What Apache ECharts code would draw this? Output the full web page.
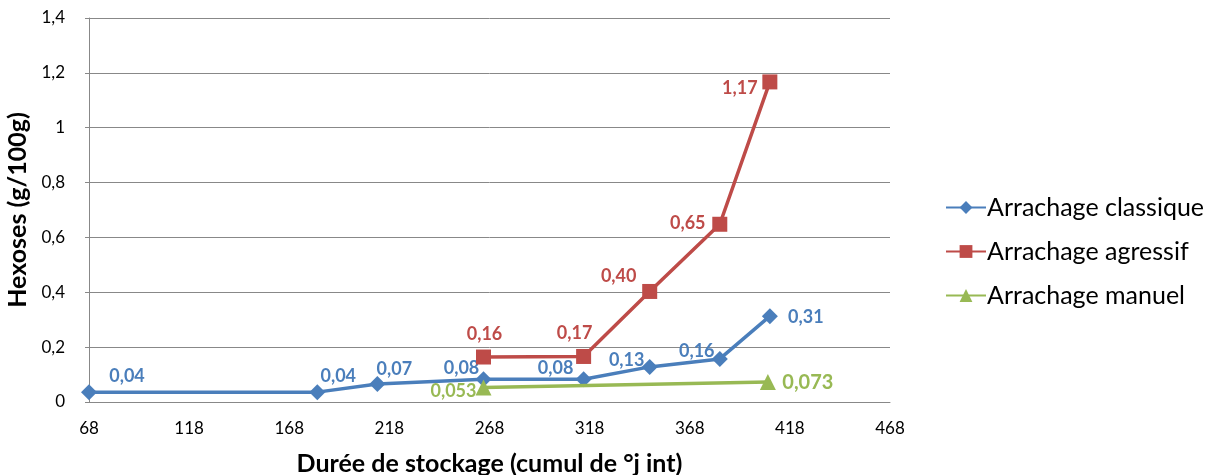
<!DOCTYPE html>
<html>
<head>
<meta charset="utf-8">
<script src="https://cdn.jsdelivr.net/npm/echarts@6/dist/echarts.min.js"></script>
<style>html,body{margin:0;padding:0;background:#fff}#c{width:1215px;height:475px}</style>
</head>
<body>
<div id="c"></div>
<script>
// ---- data ----
const seriesNames = ['Arrachage classique', 'Arrachage agressif', 'Arrachage manuel'];
const classiqueX = [68, 182, 212, 265, 315, 348, 383, 408];
const classiqueY = [0.036, 0.036, 0.066, 0.083, 0.083, 0.128, 0.157, 0.313];
const agressifX = [265, 315, 348, 383, 408];
const agressifY = [0.164, 0.166, 0.403, 0.648, 1.167];
const manuelX = [265, 407];
const manuelY = [0.053, 0.073];
const xTicks = [68, 118, 168, 218, 268, 318, 368, 418, 468];
const yTicks = [0, 0.2, 0.4, 0.6, 0.8, 1, 1.2, 1.4];

// ---- layout / style (not data) ----
const colors = ['#4A7EBB', '#BE4B48', '#98B954'];
const decimals = [2, 2, 3];
const labelOffsets = [
  [[38,-16],[21,-16],[17,-15],[-22,-11],[-28,-11],[-23,-7],[-23,-8],[36,1]],
  [[1,-23],[-9,-23],[-31,-15],[-32,-1],[-30,6]],
  [[-30,4],[40,1]]
];
const symbols = ['diamond', 'rect', 'triangle'];
const symbolSizes = [16, 15, 16];
const FONT = 'Lato';

function fmt(v, d) { return v.toFixed(d).replace('.', ','); }

function build(i, xs, ys) {
  return xs.map((x, k) => ({
    value: [x, ys[k]],
    label: {
      show: true,
      position: 'inside',
      offset: labelOffsets[i][k],
      formatter: () => fmt(ys[k], decimals[i]),
      color: colors[i],
      fontWeight: 'bold',
      fontSize: i === 2 && k === 1 ? 20 : 18,
      fontFamily: FONT
    }
  }));
}

const allX = [classiqueX, agressifX, manuelX];
const allY = [classiqueY, agressifY, manuelY];

const chart = echarts.init(document.getElementById('c'));
chart.setOption({
  backgroundColor: '#fff',
  animation: false,
  grid: { left: 89, right: 325, top: 18, bottom: 73, containLabel: false, outerBoundsMode: 'none' },
  xAxis: {
    type: 'value', min: 68, max: 468,
    name: 'Durée de stockage (cumul de °j int)',
    nameLocation: 'middle', nameGap: 49,
    nameTextStyle: { fontSize: 25, fontWeight: 'bold', color: '#000', fontFamily: FONT },
    axisLine: { show: true, onZero: false, lineStyle: { color: '#888', width: 1 } },
    axisTick: { show: false },
    splitLine: { show: false },
    axisLabel: { customValues: xTicks, color: '#000', fontSize: 17, fontFamily: FONT, margin: 18,
      formatter: v => String(v) }
  },
  yAxis: {
    type: 'value', min: 0, max: 1.4, interval: 0.2,
    name: 'Hexoses (g/100g)',
    nameLocation: 'middle', nameGap: 58, nameRotate: 90,
    nameTextStyle: { fontSize: 25, fontWeight: 'bold', color: '#000', fontFamily: FONT },
    axisLine: { show: true, lineStyle: { color: '#888', width: 1 } },
    axisTick: { show: true, length: 4, lineStyle: { color: '#888' } },
    splitLine: { show: true, lineStyle: { color: '#888', width: 1 } },
    axisLabel: { color: '#000', fontSize: 17, fontFamily: FONT, margin: 24,
      formatter: v => String(Math.round(v * 10) / 10).replace('.', ',') }
  },
  legend: {
    orient: 'vertical', left: 940, top: 190, itemGap: 19,
    itemWidth: 40, itemHeight: 16,
    textStyle: { fontSize: 25, color: '#000', fontFamily: FONT, padding: [0,0,0,-4] },
    data: seriesNames
  },
  series: seriesNames.map((n, i) => ({
    name: n, type: 'line',
    data: build(i, allX[i], allY[i]),
    symbol: symbols[i], symbolSize: symbolSizes[i],
    showAllSymbol: true,
    color: colors[i],
    itemStyle: { color: colors[i] },
    lineStyle: { color: colors[i], width: 3.5 },
    z: 3 + i
  }))
});
</script>
</body>
</html>
